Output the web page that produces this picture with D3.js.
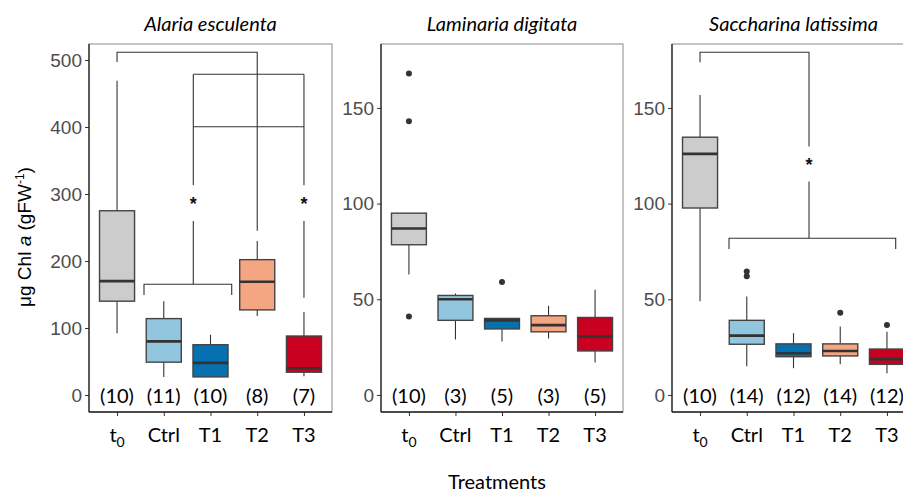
<!DOCTYPE html>
<html>
<head>
<meta charset="utf-8">
<script src="https://cdn.jsdelivr.net/npm/d3@7"></script>
<style>
  body { margin: 0; background: #fff; }
  svg { display: block; }
</style>
</head>
<body>
<div id="chart"></div>
<script>
// data
const categories = ['t0', 'Ctrl', 'T1', 'T2', 'T3'];
const species = ['Alaria esculenta', 'Laminaria digitata', 'Saccharina latissima'];
const nObs = [[10, 11, 10, 8, 7], [10, 3, 5, 3, 5], [10, 14, 12, 14, 12]];

const whiskerHigh = [[469, 140, 90, 230, 124], [95, 53, 40, 46.6, 55], [156.7, 51.5, 32.3, 35.8, 33]];
const q3 = [[275, 114, 75, 202, 88], [95, 52, 40, 41.4, 40.5], [134.7, 39, 26.7, 26.7, 24]];
const median = [[170, 80, 48, 169, 40], [87, 50, 39, 36.5, 30.5], [126, 31, 21.8, 23, 18.7]];
const q1 = [[140, 49, 27, 127, 34], [78.5, 39, 34.5, 33, 23], [97.7, 26.5, 20, 20.4, 16]];
const whiskerLow = [[92, 27, 27, 118, 28], [63, 29, 28, 29.5, 17], [49, 15, 14, 16, 11.4]];

// outliers: [category index, value]
const outliers = [
  [],
  [[0, 168], [0, 143], [0, 41], [2, 59]],
  [[1, 64.5], [1, 62], [3, 43], [4, 36.5]]
];

const yTicks = [[0, 100, 200, 300, 400, 500], [0, 50, 100, 150], [0, 50, 100, 150]];
const yDomains = [[-25.4, 523.9], [-8.9, 183.4], [-8.9, 183.4]];

// significance brackets as polylines in (category index, value) space
const brackets = [
  [
    [[0, 497], [0, 511.5], [3, 511.5], [3, 478.7]],
    [[1.632, 478.7], [4, 478.7]],
    [[1.632, 400.4], [4, 400.4]],
    [[1.632, 478.7], [1.632, 313]],
    [[1.632, 259.7], [1.632, 165.2]],
    [[4, 478.7], [4, 313]],
    [[4, 259.7], [4, 145.2]],
    [[3, 478.7], [3, 245]],
    [[0.577, 149.3], [0.577, 165.2], [2.454, 165.2], [2.454, 149.3]]
  ],
  [],
  [
    [[0, 173.9], [0, 179.1], [2.332, 179.1], [2.332, 129.8]],
    [[2.332, 111.5], [2.332, 81.9]],
    [[0.62, 76.3], [0.62, 81.9], [4.187, 81.9], [4.187, 76.3]]
  ]
];
const stars = [[[1.632, 291], [4, 291]], [], [[2.332, 122]]];

const colors = ['#cccccc', '#92c5de', '#0571b0', '#f4a582', '#ca0020'];

const width = 903;
const height = 494;
const panelX = [[89, 332], [381, 623], [672, 915]];
const panelTop = 44;
const panelBottom = 412;
const labelFont = 'Lato, "Open Sans", sans-serif';

const svg = d3.select('#chart')
  .append('svg')
  .attr('width', width)
  .attr('height', height);

function drawPanel(p) {
  const g = svg.append('g');
  const x = d3.scaleLinear().domain([-0.6, 4.6]).range(panelX[p]);
  const y = d3.scaleLinear().domain(yDomains[p]).range([panelBottom, panelTop]);
  const boxW = x(0.375) - x(0);

  // panel border
  g.append('rect')
    .attr('x', panelX[p][0]).attr('y', panelTop)
    .attr('width', panelX[p][1] - panelX[p][0]).attr('height', panelBottom - panelTop)
    .attr('fill', 'none').attr('stroke', '#8a8a8a').attr('stroke-width', 1);

  // axes
  const yAxis = d3.axisLeft(y).tickValues(yTicks[p]).tickSize(4).tickPadding(3);
  const ya = g.append('g').attr('transform', `translate(${panelX[p][0]},0)`).call(yAxis);
  ya.select('.domain').remove();
  ya.selectAll('.tick line').attr('stroke', '#333');
  ya.selectAll('.tick text')
    .attr('fill', '#4d4d4d')
    .style('font-family', '"Liberation Sans", Arial, sans-serif')
    .style('font-size', '19px');

  const xa = g.append('g').attr('transform', `translate(0,${panelBottom})`)
    .call(d3.axisBottom(x).tickValues(d3.range(5)).tickSize(4).tickFormat(''));
  xa.select('.domain').remove();
  xa.selectAll('.tick line').attr('stroke', '#333');

  g.append('line')
    .attr('x1', panelX[p][0]).attr('x2', panelX[p][0])
    .attr('y1', panelTop).attr('y2', panelBottom)
    .attr('stroke', '#222').attr('stroke-width', 1.3);
  g.append('line')
    .attr('x1', panelX[p][0]).attr('x2', panelX[p][1])
    .attr('y1', panelBottom).attr('y2', panelBottom)
    .attr('stroke', '#222').attr('stroke-width', 1.3);

  // category labels
  const labs = g.append('g').selectAll('text')
    .data(categories)
    .join('text')
    .attr('x', (d, i) => x(i))
    .attr('y', 442)
    .attr('text-anchor', 'middle')
    .style('font-family', labelFont)
    .style('font-size', '20px')
    .attr('fill', '#000');
  labs.each(function (d) {
    const t = d3.select(this);
    if (d === 't0') {
      t.append('tspan').text('t');
      t.append('tspan').attr('dy', 5).style('font-size', '14px').text('0');
    } else {
      t.text(d);
    }
  });

  // counts
  g.append('g').selectAll('text')
    .data(nObs[p])
    .join('text')
    .attr('x', (d, i) => x(i))
    .attr('y', 403)
    .attr('text-anchor', 'middle')
    .style('font-family', labelFont)
    .style('font-size', '20px')
    .attr('fill', '#000')
    .text((d) => `(${d})`);

  // brackets
  const line = d3.line().x((d) => x(d[0])).y((d) => y(d[1]));
  g.append('g').selectAll('path')
    .data(brackets[p])
    .join('path')
    .attr('d', line)
    .attr('fill', 'none')
    .attr('stroke', '#333')
    .attr('stroke-width', 1.1);

  g.append('g').selectAll('text')
    .data(stars[p])
    .join('text')
    .attr('x', (d) => x(d[0]))
    .attr('y', (d) => y(d[1]) + 10)
    .attr('text-anchor', 'middle')
    .style('font-family', '"Liberation Sans", Arial, sans-serif')
    .style('font-weight', 'bold')
    .style('font-size', '18px')
    .attr('fill', '#111')
    .text('*');

  // boxes
  const boxes = g.append('g').selectAll('g')
    .data(categories.map((c, i) => i))
    .join('g');

  boxes.append('line')
    .attr('x1', (i) => x(i)).attr('x2', (i) => x(i))
    .attr('y1', (i) => y(whiskerHigh[p][i])).attr('y2', (i) => y(q3[p][i]))
    .attr('stroke', '#333').attr('stroke-width', 1.1);
  boxes.append('line')
    .attr('x1', (i) => x(i)).attr('x2', (i) => x(i))
    .attr('y1', (i) => y(q1[p][i])).attr('y2', (i) => y(whiskerLow[p][i]))
    .attr('stroke', '#333').attr('stroke-width', 1.1);
  boxes.append('rect')
    .attr('x', (i) => x(i) - boxW)
    .attr('y', (i) => y(q3[p][i]))
    .attr('width', boxW * 2)
    .attr('height', (i) => y(q1[p][i]) - y(q3[p][i]))
    .attr('fill', (i) => colors[i])
    .attr('stroke', '#444')
    .attr('stroke-width', 1.4);
  boxes.append('line')
    .attr('x1', (i) => x(i) - boxW).attr('x2', (i) => x(i) + boxW)
    .attr('y1', (i) => y(median[p][i])).attr('y2', (i) => y(median[p][i]))
    .attr('stroke', '#333').attr('stroke-width', 2.6);

  g.append('g').selectAll('circle')
    .data(outliers[p])
    .join('circle')
    .attr('cx', (d) => x(d[0]))
    .attr('cy', (d) => y(d[1]))
    .attr('r', 3)
    .attr('fill', '#333');

  // title
  g.append('text')
    .attr('x', (panelX[p][0] + panelX[p][1]) / 2)
    .attr('y', 31)
    .attr('text-anchor', 'middle')
    .style('font-family', labelFont)
    .style('font-style', 'italic')
    .style('font-size', '20px')
    .attr('fill', '#000')
    .text(species[p]);
}

species.forEach((s, p) => drawPanel(p));

// shared axis titles
const yl = svg.append('text')
  .attr('transform', 'translate(31,237) rotate(-90)')
  .attr('text-anchor', 'middle')
  .style('font-family', '"Liberation Sans", Arial, sans-serif')
  .style('font-size', '19px')
  .attr('fill', '#000');
yl.append('tspan').text('μg Chl ');
yl.append('tspan').style('font-style', 'italic').text('a');
yl.append('tspan').text(' (gFW');
yl.append('tspan').attr('dy', -7).style('font-size', '12px').text('-1');
yl.append('tspan').attr('dy', 7).text(')');

svg.append('text')
  .attr('x', 497)
  .attr('y', 489)
  .attr('text-anchor', 'middle')
  .style('font-family', labelFont)
  .style('font-size', '20px')
  .attr('fill', '#000')
  .text('Treatments');
</script>
</body>
</html>
